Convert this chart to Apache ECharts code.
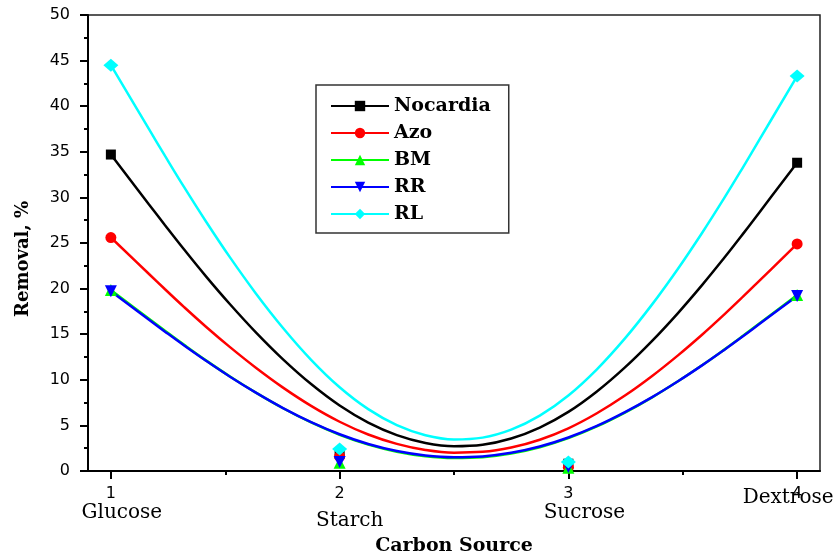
<!DOCTYPE html>
<html>
<head>
<meta charset="utf-8">
<script src="https://cdn.jsdelivr.net/npm/echarts@6/dist/echarts.min.js"></script>
<style>
html,body{margin:0;padding:0;background:#fff;}
#main{width:836px;height:556px;}
</style>
</head>
<body>
<div id="main"></div>
<script>
// ---- data ----
const xPositions = [1, 2, 3, 4];
const tickLabels = ['1', '2', '3', '4'];
const minorTickValues = [1.5, 2.5, 3.5];
const categories = ['Glucose', 'Starch', 'Sucrose', 'Dextrose'];
const seriesNames = ['Nocardia', 'Azo', 'BM', 'RR', 'RL'];

// measured points
const nocardia = [34.7, 1.9, 0.8, 33.8];
const azo = [25.6, 1.6, 0.4, 24.9];
const bm = [19.85, 0.9, 0.35, 19.3];
const rr = [19.7, 1.0, 0.45, 19.2];
const rl = [44.5, 2.4, 1.0, 43.3];

// smoothed (B-spline) curves
const curveX = [1, 1.1667, 1.2367, 1.3203, 1.4157, 1.5208, 1.6338, 1.7526, 1.8753, 2.0, 2.125, 2.25, 2.375, 2.5,
  2.625, 2.75, 2.875, 3.0, 3.1247, 3.2474, 3.3662, 3.4792, 3.5843, 3.6797, 3.7633, 3.8333, 4];
const nocardiaCurve = [34.7, 29.23, 26.95, 24.28, 21.34, 18.28, 15.20, 12.24, 9.53, 7.18, 5.31, 3.94, 3.08, 2.72,
  2.88, 3.56, 4.76, 6.48, 8.72, 11.36, 14.27, 17.32, 20.38, 23.32, 26.00, 28.3, 33.8];
const azoCurve = [25.6, 21.6, 19.93, 17.97, 15.82, 13.58, 11.32, 9.14, 7.14, 5.40, 4.00, 2.97, 2.30, 2.01,
  2.10, 2.57, 3.43, 4.68, 6.33, 8.27, 10.42, 12.68, 14.94, 17.12, 19.11, 20.82, 24.9];
const bmCurve = [19.85, 16.69, 15.37, 13.83, 12.13, 10.36, 8.59, 6.88, 5.32, 3.97, 2.89, 2.11, 1.61, 1.42,
  1.51, 1.91, 2.60, 3.60, 4.89, 6.41, 8.08, 9.84, 11.59, 13.28, 14.82, 16.14, 19.3];
const rrCurve = [19.7, 16.58, 15.28, 13.76, 12.09, 10.34, 8.59, 6.90, 5.36, 4.03, 2.96, 2.19, 1.70, 1.51,
  1.60, 1.99, 2.68, 3.67, 4.94, 6.45, 8.10, 9.84, 11.58, 13.25, 14.77, 16.08, 19.2];
const rlCurve = [44.5, 37.48, 34.55, 31.12, 27.36, 23.42, 19.47, 15.68, 12.19, 9.18, 6.78, 5.03, 3.92, 3.46,
  3.66, 4.53, 6.07, 8.28, 11.15, 14.54, 18.27, 22.18, 26.10, 29.86, 33.30, 36.25, 43.3];

// ---- styling ----
const points = [nocardia, azo, bm, rr, rl];
const curves = [nocardiaCurve, azoCurve, bmCurve, rrCurve, rlCurve];
const colors = ['#000000', '#ff0000', '#00ff00', '#0000ff', '#00ffff'];
const symbols = ['rect', 'circle', 'triangle', 'path://M0,0 L10,0 L5,9 Z', 'diamond'];
const symbolSizes = [10, 11, 12, 12, [15, 13]];
const catOffsets = [[11, 42], [10, 50], [16, 42], [-9, 27]];

const chart = echarts.init(document.getElementById('main'), null, {renderer: 'canvas'});

const series = [];
seriesNames.forEach((name, i) => {
  series.push({
    name: name,
    type: 'line',
    data: curveX.map((x, k) => [x, curves[i][k]]),
    smooth: 0.4,
    showSymbol: false,
    symbol: symbols[i],
    symbolSize: symbolSizes[i],
    lineStyle: {color: colors[i], width: 2.5},
    itemStyle: {color: colors[i]},
    animation: false,
    z: 2
  });
});
seriesNames.forEach((name, i) => {
  series.push({
    name: name,
    type: 'scatter',
    data: xPositions.map((x, k) => [x, points[i][k]]),
    symbol: symbols[i],
    symbolSize: symbolSizes[i],
    itemStyle: {color: colors[i], opacity: 1},
    animation: false,
    z: 3
  });
});

const option = {
  backgroundColor: '#ffffff',
  animation: false,
  grid: {
    left: 88, top: 15, right: 16, bottom: 85,
    containLabel: false, outerBoundsMode: 'none',
    show: true, borderColor: '#222', borderWidth: 1.5, backgroundColor: 'transparent'
  },
  legend: {
    data: seriesNames,
    orient: 'vertical',
    left: 316, top: 85,
    padding: [11, 18, 9, 14],
    itemWidth: 58, itemHeight: 13, itemGap: 7,
    borderColor: '#333', borderWidth: 1.5,
    backgroundColor: '#fff',
    textStyle: {fontFamily: 'DejaVu Serif', fontWeight: 'bold', fontSize: 19, color: '#000', lineHeight: 20}
  },
  xAxis: [{
    type: 'value', min: 0.9, max: 4.1,
    name: 'Carbon Source', nameLocation: 'middle', nameGap: 66,
    nameTextStyle: {fontFamily: 'DejaVu Serif', fontWeight: 'bold', fontSize: 19, color: '#000'},
    axisLine: {show: true, onZero: false, lineStyle: {color: '#000', width: 2}},
    axisTick: {show: true, inside: false, length: 8, lineStyle: {color: '#000', width: 2}, customValues: xPositions},
    axisLabel: {show: true, customValues: xPositions, margin: 15, formatter: v => tickLabels[xPositions.indexOf(Math.round(v))] || '',
      fontFamily: 'DejaVu Sans', fontSize: 16, color: '#000'},
    splitLine: {show: false}
  }, {
    type: 'value', min: 0.9, max: 4.1, position: 'bottom',
    axisLine: {show: false},
    axisTick: {show: true, inside: false, length: 4, lineStyle: {color: '#000', width: 2}, customValues: minorTickValues},
    axisLabel: {show: false},
    splitLine: {show: false}
  }],
  yAxis: {
    type: 'value', min: 0, max: 50, interval: 5,
    name: 'Removal, %', nameLocation: 'middle', nameGap: 56, nameRotate: 90,
    nameTextStyle: {fontFamily: 'DejaVu Serif', fontWeight: 'bold', fontSize: 18, color: '#000', padding: [0, 32, 0, 0]},
    axisLine: {show: true, lineStyle: {color: '#000', width: 2}},
    axisTick: {show: true, inside: false, length: 8, lineStyle: {color: '#000', width: 2}},
    minorTick: {show: true, splitNumber: 2, length: 4, lineStyle: {color: '#000', width: 2}},
    axisLabel: {margin: 18, fontFamily: 'DejaVu Sans', fontSize: 16, color: '#000'},
    splitLine: {show: false},
    minorSplitLine: {show: false}
  },
  series: series
};
chart.setOption(option);

// category names under the tick labels
const graphics = categories.map((c, i) => {
  const p = chart.convertToPixel({xAxisIndex: 0, yAxisIndex: 0}, [xPositions[i], 0]);
  return {
    type: 'text',
    x: p[0] + catOffsets[i][0],
    y: p[1] + catOffsets[i][1],
    style: {text: c, font: '20px "DejaVu Serif"', fill: '#000', align: 'center', verticalAlign: 'middle'},
    z: 10
  };
});
chart.setOption({graphic: graphics});
</script>
</body>
</html>
